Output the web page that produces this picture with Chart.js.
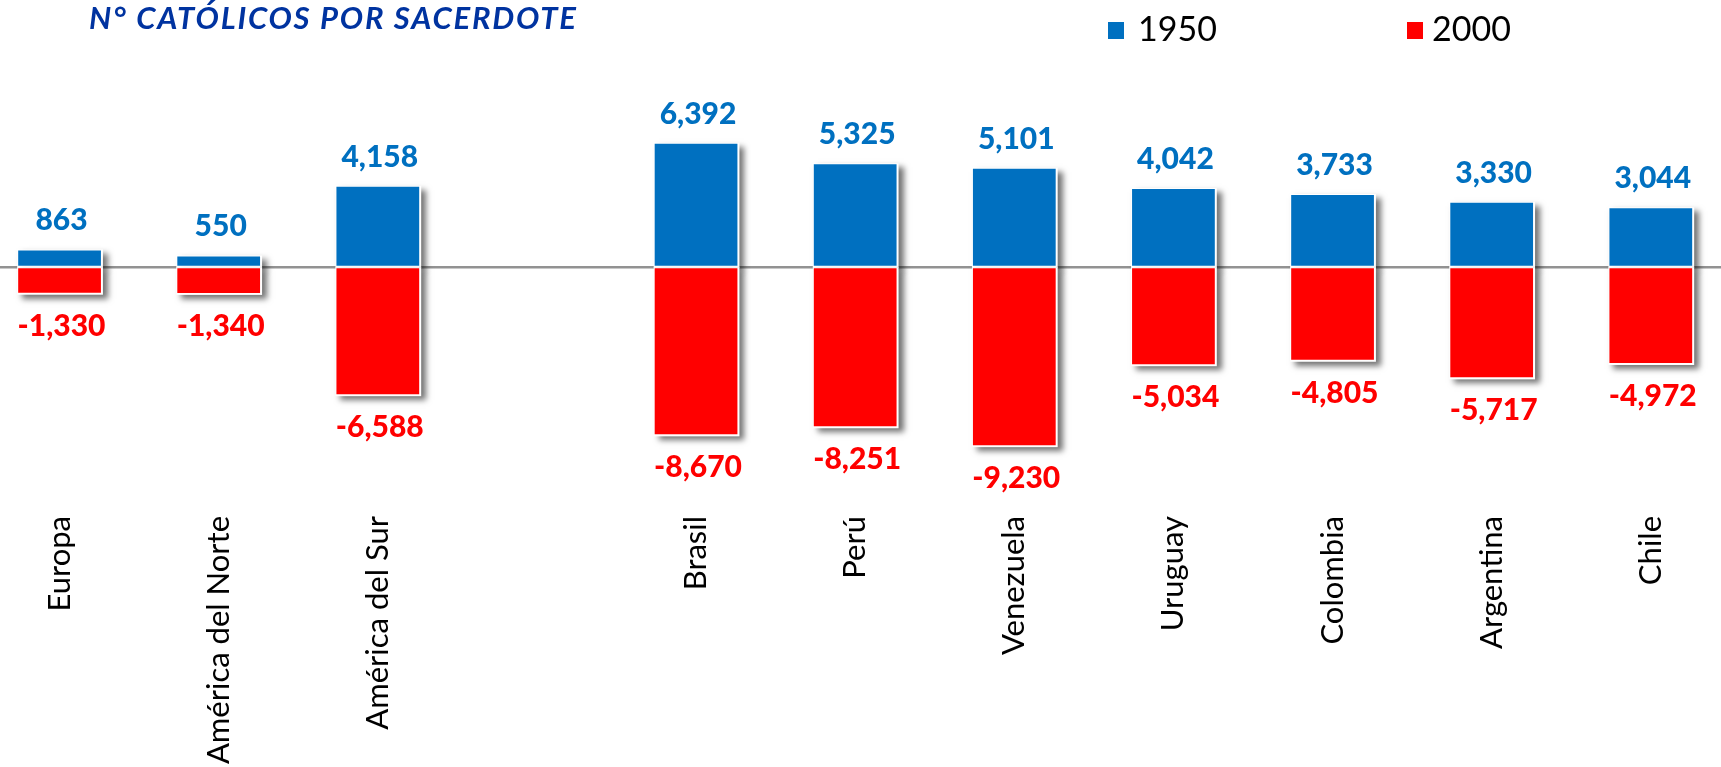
<!DOCTYPE html>
<html>
<head>
<meta charset="utf-8">
<title>N° católicos por sacerdote</title>
<script src="https://cdn.jsdelivr.net/npm/chart.js@4/dist/chart.umd.min.js"></script>
<style>
    html, body { margin: 0; padding: 0; background: #fff; overflow: hidden; }
    #wrap { position: relative; width: 1721px; height: 767px; overflow: hidden; }
    #chart { position: absolute; left: -20px; top: 0; }
    .title {
        position: absolute; left: 89px; top: 2px;
        font: italic bold 31px Lato, sans-serif; line-height: 1; letter-spacing: 1.8px;
        color: #0033a0; white-space: nowrap;
    }
    .legend-item { position: absolute; top: 11px; font: 34px Lato, sans-serif; line-height: 1; color: #000; }
    .legend-box { position: absolute; width: 16px; height: 17px; top: 22px; }
</style>
</head>
<body>
<div id="wrap">
    <canvas id="chart" width="1764" height="767"></canvas>
    <div class="title">N° CATÓLICOS POR SACERDOTE</div>
    <div class="legend-box" style="left:1108px;background:#0070c0"></div>
    <div class="legend-item" style="left:1138px">1950</div>
    <div class="legend-box" style="left:1407px;background:#ff0000"></div>
    <div class="legend-item" style="left:1432px">2000</div>
</div>
<script>
const regions = ["Europa", "América del Norte", "América del Sur", "", "Brasil", "Perú", "Venezuela", "Uruguay", "Colombia", "Argentina", "Chile"];
const values1950 = [863, 550, 4158, null, 6392, 5325, 5101, 4042, 3733, 3330, 3044];
const values2000 = [-1330, -1340, -6588, null, -8670, -8251, -9230, -5034, -4805, -5717, -4972];

const BLUE = "#0070c0";
const RED = "#ff0000";

// white-edged drop shadow behind every bar
const barShadow = {
    id: "barShadow",
    beforeDatasetsDraw(chart) {
        const ctx = chart.ctx;
        ctx.save();
        ctx.shadowColor = "rgba(0,0,0,0.55)";
        ctx.shadowBlur = 6;
        ctx.shadowOffsetX = 5;
        ctx.shadowOffsetY = 4;
        ctx.fillStyle = "#fff";
        chart.data.datasets.forEach((ds, i) => {
            chart.getDatasetMeta(i).data.forEach((bar, j) => {
                if (ds.data[j] == null) return;
                const top = Math.min(bar.y, bar.base);
                const h = Math.abs(bar.y - bar.base);
                ctx.fillRect(bar.x - bar.width / 2 - 1, top - 1, bar.width + 3, h + 3);
            });
        });
        ctx.restore();
    }
};

// value labels above blue bars / below red bars
const valueLabels = {
    id: "valueLabels",
    afterDatasetsDraw(chart) {
        const ctx = chart.ctx;
        ctx.save();
        ctx.font = "900 30px Lato, sans-serif";
        ctx.textAlign = "center";
        ctx.textBaseline = "alphabetic";
        chart.data.datasets.forEach((ds, i) => {
            chart.getDatasetMeta(i).data.forEach((bar, j) => {
                const v = ds.data[j];
                if (v == null) return;
                ctx.fillStyle = ds.backgroundColor;
                const y = v >= 0 ? bar.y - 20 : bar.y + 43;
                ctx.fillText(v.toLocaleString("en-US"), bar.x + 2, y);
            });
        });
        ctx.restore();
    }
};

new Chart(document.getElementById("chart"), {
    type: "bar",
    data: {
        labels: regions,
        datasets: [
            { label: "1950", data: values1950, backgroundColor: BLUE },
            { label: "2000", data: values2000, backgroundColor: RED }
        ]
    },
    options: {
        responsive: false,
        animation: false,
        barPercentage: 0.52,
        categoryPercentage: 1,
        layout: { padding: { top: 132, left: 0, right: 0, bottom: 0 } },
        plugins: {
            legend: { display: false },
            tooltip: { enabled: false }
        },
        scales: {
            x: {
                stacked: true,
                grid: { display: false, drawTicks: false },
                border: { display: false },
                ticks: {
                    color: "#000",
                    font: { family: "Lato", size: 31 },
                    minRotation: 90,
                    maxRotation: 90,
                    autoSkip: false,
                    padding: 56
                },
                afterFit: (scale) => { scale.height = 307; }
            },
            y: {
                stacked: true,
                min: -10000,
                max: 7000,
                ticks: { display: false, stepSize: 1000 },
                border: { display: false },
                grid: {
                    drawTicks: false,
                    lineWidth: 2.5,
                    color: (c) => c.tick && c.tick.value === 0 ? "#929292" : "rgba(0,0,0,0)"
                },
                afterFit: (scale) => { scale.width = 0; }
            }
        }
    },
    plugins: [barShadow, valueLabels]
});
</script>
</body>
</html>
